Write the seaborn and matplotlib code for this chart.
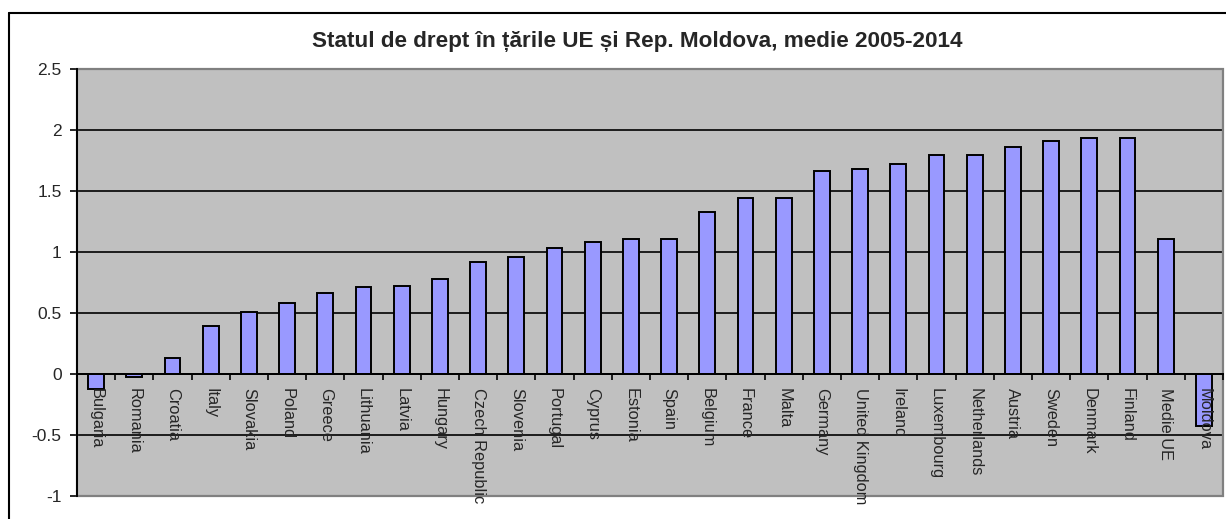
import matplotlib
matplotlib.use("Agg")
import matplotlib.pyplot as plt
import seaborn as sns
import numpy as np
from matplotlib.lines import Line2D
from matplotlib.patches import Rectangle
from matplotlib.ticker import FixedLocator, FuncFormatter

countries = ["Bulgaria", "Romania", "Croatia", "Italy", "Slovakia", "Poland", "Greece",
             "Lithuania", "Latvia", "Hungary", "Czech Republic", "Slovenia", "Portugal",
             "Cyprus", "Estonia", "Spain", "Belgium", "France", "Malta", "Germany",
             "United Kingdom", "Ireland", "Luxembourg", "Netherlands", "Austria", "Sweden",
             "Denmark", "Finland", "Medie UE", "Moldova"]
values = [-0.125, -0.025, 0.13, 0.39, 0.505, 0.585, 0.66, 0.71, 0.72, 0.775, 0.92, 0.955,
          1.035, 1.085, 1.11, 1.11, 1.33, 1.445, 1.445, 1.665, 1.68, 1.72, 1.795, 1.795,
          1.86, 1.91, 1.935, 1.935, 1.11, -0.43]
y_ticks = [-1, -0.5, 0, 0.5, 1, 1.5, 2, 2.5]
title = "Statul de drept în țările UE și Rep. Moldova, medie 2005-2014"

sns.set_style("white")
plt.rcParams['font.family'] = ['Liberation Sans', 'DejaVu Sans']

W, H = 1226, 519
fig = plt.figure(figsize=(W / 100, H / 100), dpi=100)
ax = fig.add_axes([77 / W, 1 - 496 / H, (1223 - 77) / W, (496 - 69) / H])
ax.set_facecolor('#C0C0C0')

sns.barplot(x=countries, y=values, color='#9999FF', saturation=1, edgecolor='black',
            linewidth=1.4, width=0.41, ax=ax, zorder=2)

ax.set_ylim(-1, 2.5)
ax.set_xlim(-0.5, len(countries) - 0.5)
ax.set_xlabel("")
ax.set_ylabel("")
ax.yaxis.set_major_locator(FixedLocator(y_ticks))
ax.yaxis.set_major_formatter(FuncFormatter(lambda v, p: f"{v:g}"))
ax.set_axisbelow(True)
ax.yaxis.grid(True, color='black', linewidth=1.2)
ax.xaxis.grid(False)

for s in ['top', 'right']:
    ax.spines[s].set_visible(False)
ax.spines['left'].set_color('black')
ax.spines['left'].set_linewidth(1.4)
ax.spines['left'].set_zorder(5)
ax.spines['bottom'].set_position(('data', 0))
ax.spines['bottom'].set_color('black')
ax.spines['bottom'].set_linewidth(1.4)
ax.spines['bottom'].set_zorder(5)
ax.xaxis.set_zorder(6)

ax.add_patch(Rectangle((0, 0), 1, 1, transform=ax.transAxes, fill=False,
                       edgecolor='#808080', linewidth=1.6, zorder=4, clip_on=False))

ax.tick_params(axis='y', which='major', direction='out', length=5, width=1.2,
               color='black', labelsize=12.5, pad=6, left=True)
ax.xaxis.set_minor_locator(FixedLocator(np.arange(-0.5, len(countries), 1.0)))
ax.tick_params(axis='x', which='minor', direction='out', length=4, width=1.2,
               color='black', bottom=True)
ax.tick_params(axis='x', which='major', length=0, pad=10, labelsize=11.8)
for lab in ax.get_xticklabels():
    lab.set_rotation(-90)
    lab.set_va('top')
    lab.set_ha('center')
    lab.set_rotation_mode('default')
    lab.set_zorder(7)

fig.text(637 / W, 1 - 42 / H, title, ha='center', va='center', fontsize=16.2,
         fontweight='bold')

# outer chart frame (cropped)
fig.add_artist(Line2D([9 / W, 9 / W], [0, 1 - 13 / H], transform=fig.transFigure,
                      color='black', linewidth=1.5))
fig.add_artist(Line2D([9 / W, 1], [1 - 13 / H, 1 - 13 / H], transform=fig.transFigure,
                      color='black', linewidth=1.5))

fig.savefig("out.png", dpi=100, facecolor='white')
